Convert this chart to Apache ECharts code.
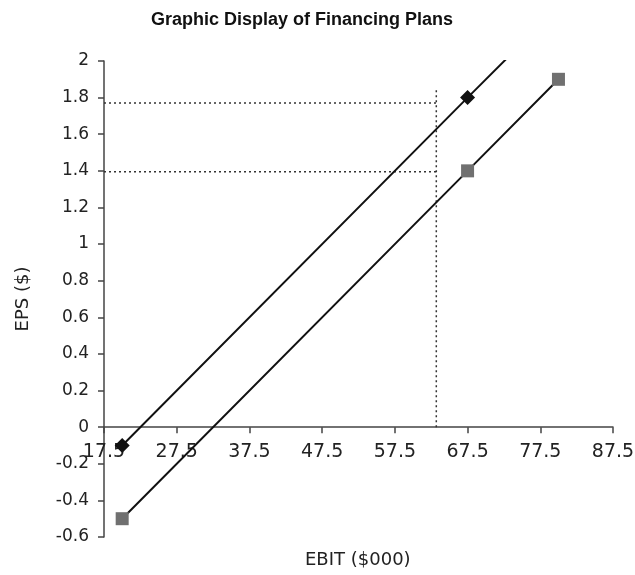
<!DOCTYPE html>
<html>
<head>
<meta charset="utf-8">
<script src="https://cdn.jsdelivr.net/npm/echarts@6/dist/echarts.min.js"></script>
<style>
html,body{margin:0;padding:0;background:#fff;}
#chart{width:635px;height:575px;}
</style>
</head>
<body>
<div id="chart"></div>
<script>
// ---- data ----
const chartTitle = 'Graphic Display of Financing Plans';
const xAxisName = 'EBIT ($000)';
const yAxisName = 'EPS ($)';

// Plan with diamond markers (last point = end of drawn line, no marker)
const planDiamondEBIT = [20, 67.5, 73.3];
const planDiamondEPS  = [-0.1, 1.8, 2.03];
const planDiamondMarked = [true, true, false];

// Plan with square markers
const planSquareEBIT = [20, 67.5, 80];
const planSquareEPS  = [-0.5, 1.4, 1.9];

// Dotted guide lines
const guideEBIT = 63.2;
const guideEPSLevels = [1.77, 1.395];
const guideVerticalTop = 1.85;

// Axis ranges / ticks
const xMin = 17.5, xMax = 87.5, xStep = 10;
const yMin = -0.6, yMax = 2, yStep = 0.2;

// ---- build options ----
const font = 'DejaVu Sans';
const gridTop = 61, gridBottom = 38, chartH = 575;
const plotH = chartH - gridTop - gridBottom;
// move the x axis (line, ticks, labels) up to EPS = 0
const xAxisOffset = -plotH * (0 - yMin) / (yMax - yMin);

const diamondData = planDiamondEBIT.map((x, i) => ({
  value: [x, planDiamondEPS[i]],
  symbol: planDiamondMarked[i] ? 'diamond' : 'none'
}));
const squareData = planSquareEBIT.map((x, i) => [x, planSquareEPS[i]]);

const dotted = {color: '#333', width: 1.5, type: [2, 3]};
const guideSeries = guideEPSLevels.map(v => ({
  type: 'line', data: [[xMin, v], [guideEBIT, v]], symbol: 'none',
  lineStyle: dotted, silent: true, z: 1
}));
guideSeries.push({
  type: 'line', data: [[guideEBIT, 0], [guideEBIT, guideVerticalTop]], symbol: 'none',
  lineStyle: dotted, silent: true, z: 1
});

const chart = echarts.init(document.getElementById('chart'), null, {renderer: 'canvas'});
chart.setOption({
  animation: false,
  backgroundColor: '#fff',
  title: {
    text: chartTitle, left: 146, top: 6,
    textStyle: {fontFamily: 'Liberation Sans', fontWeight: 'bold', fontSize: 18, color: '#111'}
  },
  grid: {left: 104, right: 22, top: gridTop, bottom: gridBottom, containLabel: false, outerBoundsMode: 'none'},
  xAxis: {
    type: 'value', min: xMin, max: xMax, interval: xStep,
    position: 'bottom', offset: xAxisOffset,
    axisLine: {onZero: false, lineStyle: {color: '#444', width: 1.5}},
    axisTick: {show: true, length: 6, inside: false, lineStyle: {color: '#444', width: 1.5}},
    axisLabel: {fontFamily: font, fontSize: 19, color: '#222', margin: 15, formatter: v => String(v)},
    splitLine: {show: false}
  },
  yAxis: {
    type: 'value', min: yMin, max: yMax, interval: yStep,
    name: yAxisName, nameLocation: 'middle', nameGap: 72, nameRotate: 90,
    nameTextStyle: {fontFamily: font, fontSize: 18, color: '#222'},
    axisLine: {show: true, onZero: false, lineStyle: {color: '#444', width: 1.5}},
    axisTick: {show: true, length: 6, lineStyle: {color: '#444', width: 1.5}},
    axisLabel: {fontFamily: font, fontSize: 17, color: '#222', margin: 15,
      formatter: v => String(Math.round(v * 10) / 10)},
    splitLine: {show: false}
  },
  graphic: [{
    type: 'text', left: 305, top: 551,
    style: {text: xAxisName, fontFamily: font, fontSize: 18, fill: '#222'}
  }],
  series: [
    ...guideSeries,
    {
      type: 'line', data: diamondData, symbolSize: 15,
      lineStyle: {color: '#111', width: 2},
      itemStyle: {color: '#111'}, z: 3
    },
    {
      type: 'line', data: squareData, symbol: 'rect', symbolSize: 13,
      lineStyle: {color: '#111', width: 2},
      itemStyle: {color: '#707070'}, z: 3
    }
  ]
});
</script>
</body>
</html>
